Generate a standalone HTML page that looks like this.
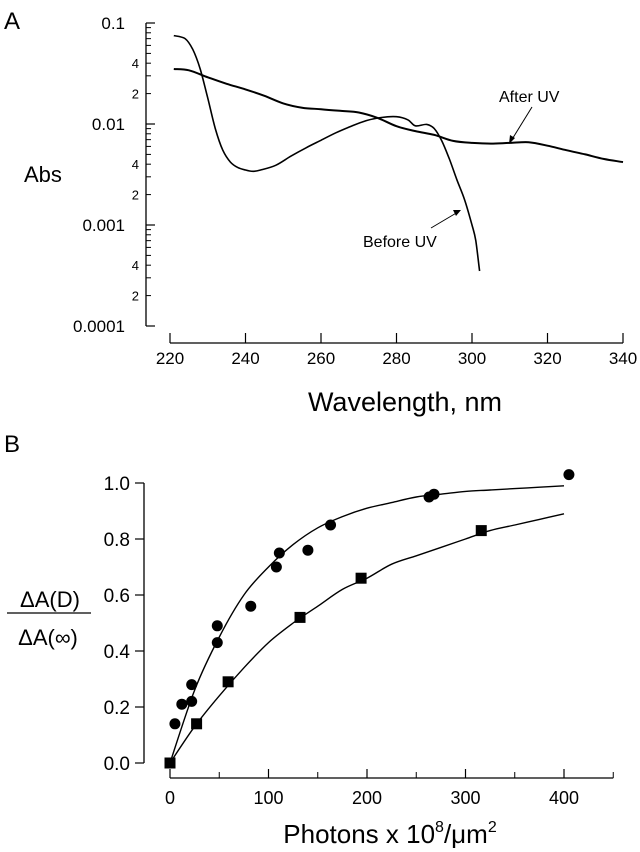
<!DOCTYPE html>
<html><head><meta charset="utf-8">
<style>
html,body{margin:0;padding:0;background:#fff;}
svg{display:block;font-family:"Liberation Sans",Arial,sans-serif;}
</style></head>
<body>
<svg id="fig" width="640" height="852" viewBox="0 0 640 852">
  <text x="4" y="29" font-size="24">A</text>
  <text x="4" y="452" font-size="24">B</text>
  <text x="24" y="182" font-size="22">Abs</text>
  <text x="405" y="411" font-size="27" text-anchor="middle">Wavelength, nm</text>
  <text x="50" y="607" font-size="22" text-anchor="middle">ΔA(D)</text>
  <line x1="7" y1="613" x2="91" y2="613" stroke="#000" stroke-width="1.3"/>
  <text x="48" y="645" font-size="22" text-anchor="middle">ΔA(∞)</text>
  <text x="390" y="843" font-size="26" text-anchor="middle">Photons x 10<tspan dy="-11" font-size="16">8</tspan><tspan dy="11">/μm</tspan><tspan dy="-11" font-size="16">2</tspan></text>
  <g id="gtop"></g>
  <g id="gbot"></g>
  <text x="499" y="102" font-size="16">After UV</text>
  <line x1="532" y1="107" x2="511" y2="141" stroke="#000" stroke-width="1"/>
  <polygon points="509,144 510,135 515,138" fill="#000"/>
  <text x="363" y="247" font-size="16">Before UV</text>
  <line x1="431" y1="228" x2="458" y2="212" stroke="#000" stroke-width="1"/>
  <polygon points="461,210 453,210 456,216" fill="#000"/>
</svg>
<script>
// ---- Panel A data ----
const beforeWl = [221,224,226,228,230,232,234,236,238,240,242,244,248,252,256,260,264,268,272,276,280,283,285,288,290,292,294,296,298,300,301,302];
const beforeAbs = [0.075,0.07,0.055,0.035,0.018,0.009,0.0055,0.0042,0.0037,0.0035,0.0034,0.0035,0.0039,0.0048,0.0058,0.0069,0.0082,0.0095,0.0108,0.0116,0.0118,0.011,0.0096,0.0099,0.009,0.0068,0.0045,0.0028,0.0018,0.001,0.0007,0.00035];
const afterWl = [221,225,230,235,240,245,250,255,260,265,270,275,280,285,290,295,300,305,310,315,320,325,330,335,340];
const afterAbs = [0.035,0.034,0.029,0.025,0.022,0.019,0.016,0.0145,0.014,0.0135,0.013,0.0115,0.0095,0.0085,0.0078,0.0068,0.0065,0.0064,0.0065,0.0066,0.0061,0.0055,0.005,0.0045,0.0042];
const wlTicks = [220,240,260,280,300,320,340];
const absMajor = [0.1,0.01,0.001,0.0001];
const absMajorLabels = ["0.1","0.01","0.001","0.0001"];
// ---- Panel B data ----
const circX = [5,12,22,22,48,48,82,108,111,140,163,263,268,405];
const circY = [0.14,0.21,0.22,0.28,0.49,0.43,0.56,0.70,0.75,0.76,0.85,0.95,0.96,1.03];
const sqX = [0,27,59,132,194,316];
const sqY = [0,0.14,0.29,0.52,0.66,0.83];
const fitX = [0,25,50,75,100,125,150,175,200,225,250,275,300,325,350,375,400];
const fitCirc = [0,0.26,0.45,0.60,0.70,0.78,0.84,0.88,0.91,0.93,0.95,0.96,0.97,0.975,0.98,0.985,0.99];
const fitSq = [0,0.13,0.24,0.34,0.43,0.50,0.56,0.62,0.66,0.71,0.74,0.77,0.80,0.83,0.85,0.87,0.89];
const photonTicks = [0,100,200,300,400];
const photonMinor = [50,150,250,350,450];
const fracTicks = [0,0.2,0.4,0.6,0.8,1.0];
const fracLabels = ["0.0","0.2","0.4","0.6","0.8","1.0"];

const NS="http://www.w3.org/2000/svg";
function mk(parent,tag,attrs){const e=document.createElementNS(NS,tag);for(const k in attrs)e.setAttribute(k,attrs[k]);parent.appendChild(e);return e;}
function smooth(pts){
  let d='M'+pts[0][0].toFixed(1)+','+pts[0][1].toFixed(1);
  for(let i=0;i<pts.length-1;i++){
    const p0=pts[Math.max(0,i-1)],p1=pts[i],p2=pts[i+1],p3=pts[Math.min(pts.length-1,i+2)];
    const c1=[p1[0]+(p2[0]-p0[0])/6,p1[1]+(p2[1]-p0[1])/6];
    const c2=[p2[0]-(p3[0]-p1[0])/6,p2[1]-(p3[1]-p1[1])/6];
    d+='C'+c1[0].toFixed(1)+','+c1[1].toFixed(1)+' '+c2[0].toFixed(1)+','+c2[1].toFixed(1)+' '+p2[0].toFixed(1)+','+p2[1].toFixed(1);
  }
  return d;
}

// Panel A scales
const xA = w => 170 + (w-220)*75.5/20;
const yA = a => 23 + (-1 - Math.log10(a))*101;
const gTop=document.getElementById('gtop');
let e=mk(gTop,'line',{x1:146,y1:23,x2:146,y2:326,stroke:'#000','stroke-width':1.3});


absMajor.forEach((v,i)=>{
  let t=mk(gTop,'line',{x1:146,y1:yA(v),x2:155,y2:yA(v),stroke:'#000','stroke-width':1.2});
  
  
  let l=mk(gTop,'text',{x:125,y:yA(v)+6,'font-size':17,'text-anchor':'end'});l.textContent=absMajorLabels[i];
  
  
  if(i<absMajor.length-1){
    for(let m=2;m<=9;m++){
      const mv=v/10*m;
      let mt=mk(gTop,'line',{x1:146,y1:yA(mv),x2:151,y2:yA(mv),stroke:'#000','stroke-width':1});
      
      
      if(m===2||m===4){let ml=mk(gTop,'text',{x:139,y:yA(mv)+5,'font-size':13,'text-anchor':'end'});ml.textContent=String(m);
        
        }
    }
  }
});
e=mk(gTop,'line',{x1:xA(220),y1:343,x2:xA(340),y2:343,stroke:'#000','stroke-width':1.3});


wlTicks.forEach(v=>{
  let t=mk(gTop,'line',{x1:xA(v),y1:333,x2:xA(v),y2:343,stroke:'#000','stroke-width':1.2});
  
  
  let l=mk(gTop,'text',{x:xA(v),y:364,'font-size':17,'text-anchor':'middle'});l.textContent=String(v);
  
  
});
let p=mk(gTop,'path',{d:smooth(beforeWl.map((w,i)=>[xA(w),yA(beforeAbs[i])])),fill:'none',stroke:'#000','stroke-width':1.6});


p=mk(gTop,'path',{d:smooth(afterWl.map((w,i)=>[xA(w),yA(afterAbs[i])])),fill:'none',stroke:'#000','stroke-width':2});



// Panel B scales
const xB = v => 170 + v*0.985;
const yB = v => 763 - v*280;
const gBot=document.getElementById('gbot');
e=mk(gBot,'line',{x1:144,y1:yB(1.0),x2:144,y2:yB(0),stroke:'#000','stroke-width':1.3});


fracTicks.forEach((v,i)=>{
  let t=mk(gBot,'line',{x1:135,y1:yB(v),x2:144,y2:yB(v),stroke:'#000','stroke-width':1.2});
  
  
  let l=mk(gBot,'text',{x:130,y:yB(v)+7,'font-size':19,'text-anchor':'end'});l.textContent=fracLabels[i];
  
  
});
e=mk(gBot,'line',{x1:xB(0),y1:778,x2:xB(450),y2:778,stroke:'#000','stroke-width':1.3});


photonTicks.forEach(v=>{
  let t=mk(gBot,'line',{x1:xB(v),y1:769,x2:xB(v),y2:778,stroke:'#000','stroke-width':1.2});
  
  
  let l=mk(gBot,'text',{x:xB(v),y:804,'font-size':18,'text-anchor':'middle'});l.textContent=String(v);
  
  
});
photonMinor.forEach(v=>{
  let t=mk(gBot,'line',{x1:xB(v),y1:772,x2:xB(v),y2:778,stroke:'#000','stroke-width':1});
  
  
});
p=mk(gBot,'path',{d:smooth(fitX.map((x,i)=>[xB(x),yB(fitCirc[i])])),fill:'none',stroke:'#000','stroke-width':1.4});


p=mk(gBot,'path',{d:smooth(fitX.map((x,i)=>[xB(x),yB(fitSq[i])])),fill:'none',stroke:'#000','stroke-width':1.4});


circX.forEach((x,i)=>{
  let c=mk(gBot,'circle',{cx:xB(x),cy:yB(circY[i]),r:5.5,fill:'#000'});
  
  
});
sqX.forEach((x,i)=>{
  let s=mk(gBot,'rect',{x:xB(x)-5.5,y:yB(sqY[i])-5.5,width:11,height:11,fill:'#000'});
  
  
});
</script>
</body></html>
